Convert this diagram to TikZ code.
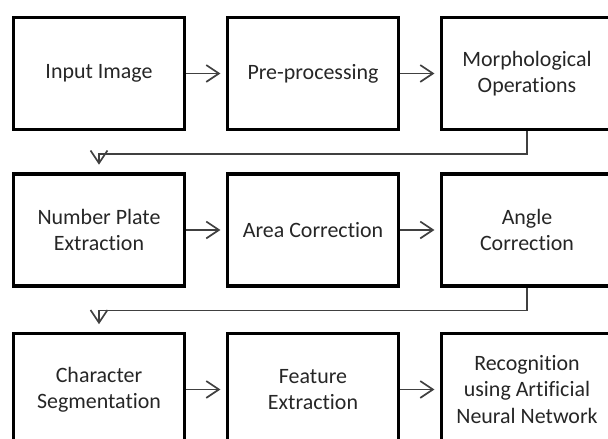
\documentclass[tikz,border=0pt]{standalone}
\usepackage{fontspec}
\setmainfont{Carlito}[Ligatures=NoCommon]
\usetikzlibrary{arrows.meta, positioning, calc}

\begin{document}
\begin{tikzpicture}[>={Straight Barb[length=9pt,width=12pt]}, x=0.025cm, y=0.025cm,
    stage/.style={draw, line width=2.2pt, minimum width=4.27cm, minimum height=2.8cm,
        align=center, text=black!85, font=\fontsize{15.6}{18.6}\selectfont},
    flow/.style={->, line width=1.2pt, draw=black!75, shorten >=4pt}]
        \useasboundingbox (0,0) rectangle (608,439);
        \clip (0,0) rectangle (608,439);
        % Row 1
        \node[stage] (input) at (99,365.5) {Input Image};
        \node[stage] (pre) at (313,365.5) {Pre-processing};
        \node[stage] (morph) at (527,365.5) {Morphological\\Operations};
        % Row 2
        \node[stage] (plate) at (99,209) {Number Plate\\Extraction};
        \node[stage] (area) at (313,209) {Area Correction};
        \node[stage] (angle) at (527,209) {Angle\\Correction};
        % Row 3
        \node[stage] (charseg) at (99,49.5) {Character\\Segmentation};
        \node[stage] (feat) at (313,49.5) {Feature\\Extraction};
        \node[stage] (recog) at (527,49.5) {Recognition\\using Artificial\\Neural Network};
        % Arrows within rows
        \draw[flow] (input) -- (pre);
        \draw[flow] (pre) -- (morph);
        \draw[flow] (plate) -- (area);
        \draw[flow] (area) -- (angle);
        \draw[flow] (charseg) -- (feat);
        \draw[flow] (feat) -- (recog);
        % Arrows between rows
        \draw[flow, shorten >=5.5pt] (morph.south) -- ++(0,-23) -| (plate.north);
        \draw[flow, shorten >=5.5pt] (angle.south) -- ++(0,-23) -| (charseg.north);
    \end{tikzpicture}
\end{document}
